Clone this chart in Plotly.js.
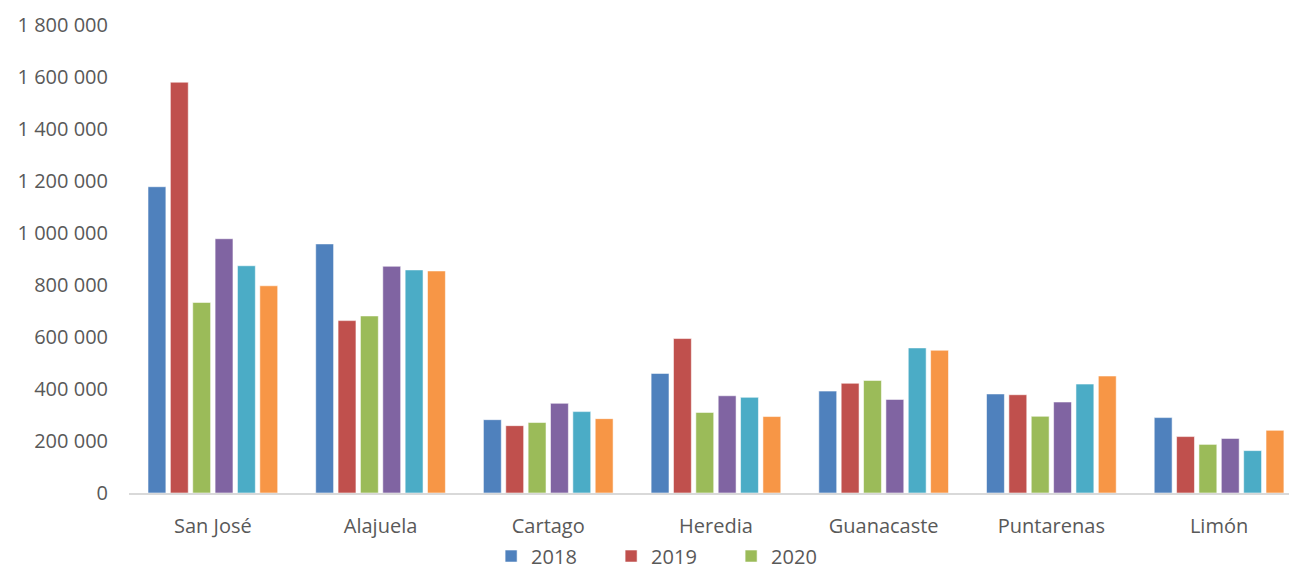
<!DOCTYPE html>
<html>
<head>
<meta charset="utf-8">
<script src="https://cdn.plot.ly/plotly-3.0.1.min.js"></script>
<style>
  html, body { margin: 0; padding: 0; background: #ffffff; }
  #chart { width: 1289px; height: 570px; }
</style>
</head>
<body>
<div id="chart"></div>
<script>
// Provinces of Costa Rica
const provinces = ['San José', 'Alajuela', 'Cartago', 'Heredia', 'Guanacaste', 'Puntarenas', 'Limón'];

// Yearly values per province
const y2018 = [1178000, 958000, 282000, 460000, 392000, 381000, 290000];
const y2019 = [1580000, 663000, 259000, 594000, 422000, 378000, 217000];
const y2020 = [733000, 681000, 271000, 310000, 433000, 295000, 187000];
const y2021 = [978000, 872000, 345000, 374000, 360000, 350000, 210000];
const y2022 = [874000, 858000, 313000, 368000, 558000, 419000, 163000];
const y2023 = [797000, 854000, 286000, 294000, 549000, 450000, 241000];

const seriesNames = ['2018', '2019', '2020', '2021', '2022', '2023'];
const seriesValues = [y2018, y2019, y2020, y2021, y2022, y2023];
const seriesColors = ['#4f81bd', '#c0504d', '#9bbb59', '#8064a2', '#4bacc6', '#f79646'];
const inLegend = [true, true, true, false, false, false];

const traces = seriesNames.map((name, i) => ({
  type: 'bar',
  name: name,
  x: provinces,
  y: seriesValues[i],
  showlegend: inLegend[i],
  marker: {
    color: seriesColors[i],
    line: { color: 'rgba(255,255,255,0.55)', width: 1 }
  },
  hoverinfo: 'x+y+name'
}));

const font = { family: 'Open Sans, Noto Sans, sans-serif', size: 20, color: '#595959' };

const layout = {
  width: 1289,
  height: 570,
  paper_bgcolor: '#ffffff',
  plot_bgcolor: '#ffffff',
  margin: { l: 129, r: 0, t: 25, b: 77 },
  separators: ', ',
  font: font,
  barmode: 'group',
  bargap: 0.2,
  bargroupgap: 0.2,
  showlegend: true,
  legend: {
    orientation: 'h',
    x: 0.381, xref: 'container', xanchor: 'left',
    y: 0.0245, yref: 'container', yanchor: 'middle',
    bgcolor: 'rgba(0,0,0,0)',
    font: font,
    entrywidth: 75,
    entrywidthmode: 'pixels',
    traceorder: 'normal'
  },
  xaxis: {
    type: 'category',
    range: [-0.5, 6.417],
    showgrid: false,
    showline: true,
    linecolor: '#d9d9d9',
    linewidth: 2,
    ticks: '',
    tickfont: font,
    ticklabelstandoff: 14,
    zeroline: false,
    fixedrange: true
  },
  yaxis: {
    range: [0, 1800000],
    dtick: 200000,
    tick0: 0,
    tickformat: ',d',
    showgrid: false,
    showline: false,
    zeroline: false,
    ticks: '',
    tickfont: font,
    ticklabelstandoff: 20,
    fixedrange: true
  }
};

Plotly.newPlot('chart', traces, layout, { displayModeBar: false, staticPlot: true });
</script>
</body>
</html>
